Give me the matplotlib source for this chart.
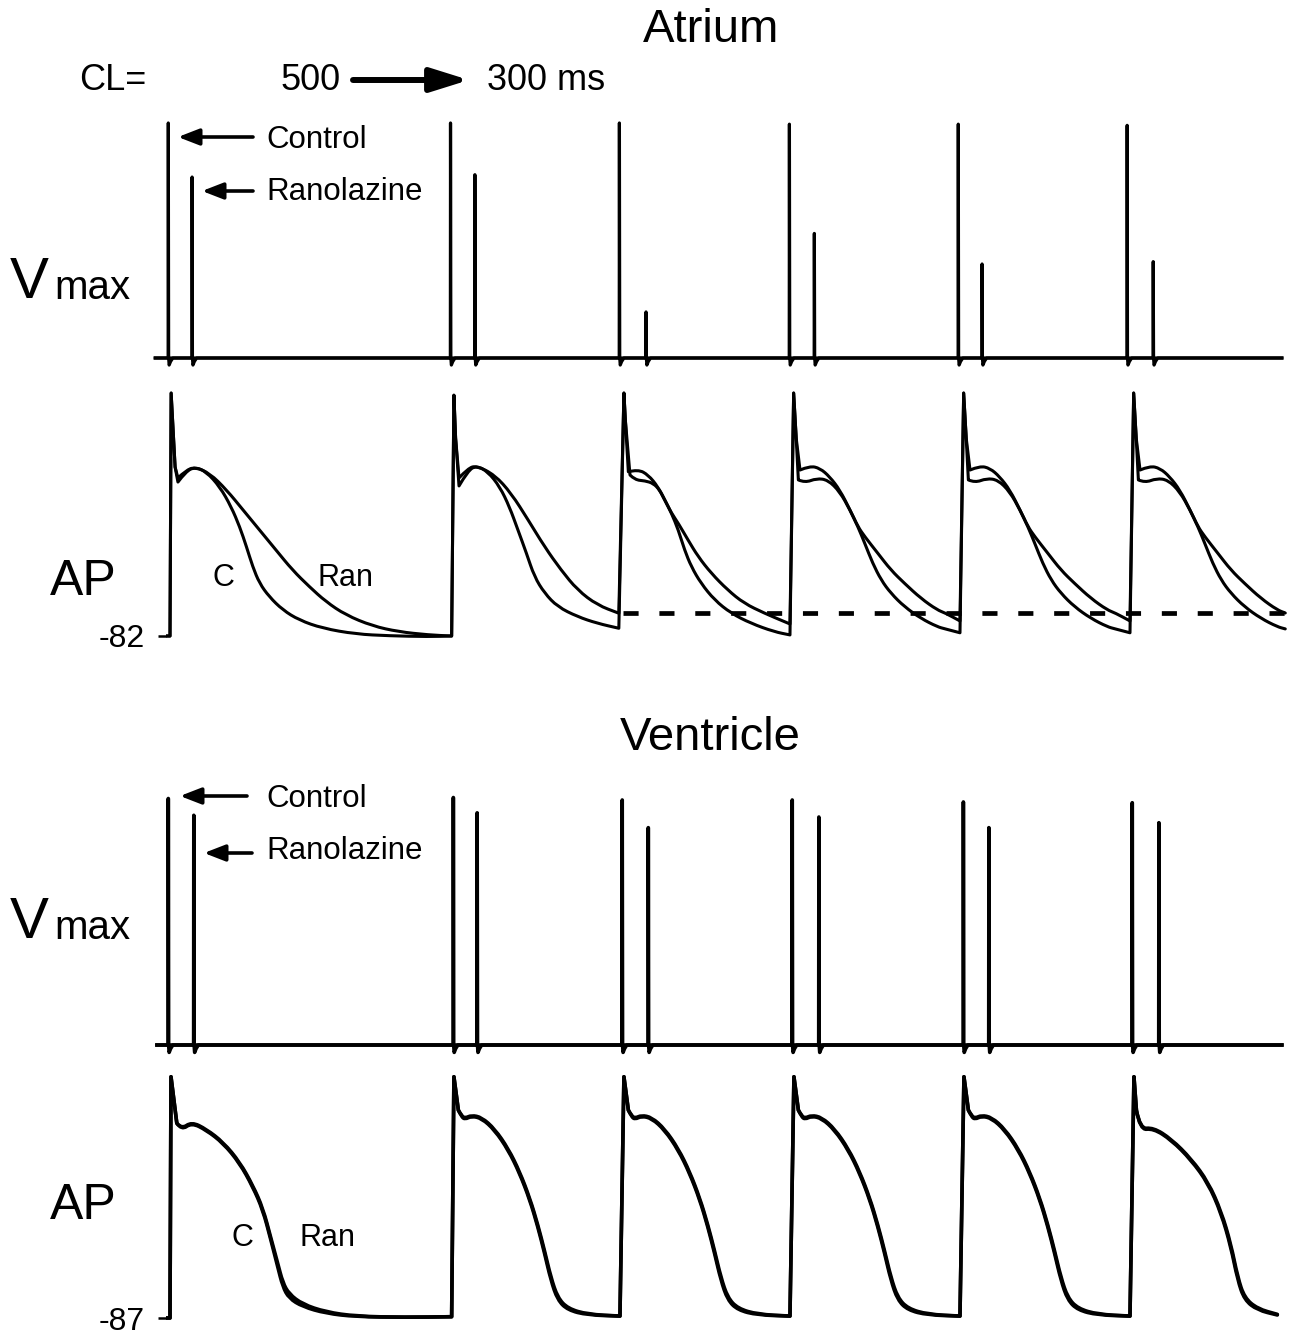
import matplotlib
matplotlib.use("Agg")
import matplotlib.pyplot as plt
from matplotlib.path import Path
from matplotlib.patches import PathPatch, FancyArrowPatch

plt.rcParams['font.family'] = ['Liberation Sans', 'DejaVu Sans']

# ------------------------------------------------------------------ data
BEAT_ONSETS_MS = [0, 500, 800, 1100, 1400, 1700]     # CL 500 -> 300 ms

# Vmax (relative units, control = ~100)
ATR_VMAX_CTRL_T = [-3, 495, 793, 1093, 1391, 1689]
ATR_VMAX_CTRL = [100, 100, 100, 99.5, 99.5, 99]
ATR_VMAX_RAN_T = [39, 538, 840, 1137, 1433, 1735]
ATR_VMAX_RAN = [77, 78, 19.6, 53, 40, 41]
VEN_VMAX_CTRL_T = [-3, 500, 798, 1098, 1400, 1698]
VEN_VMAX_CTRL = [99.8, 100.2, 99.2, 99.2, 98.4, 98.1]
VEN_VMAX_RAN_T = [42, 542, 844, 1145, 1445, 1745]
VEN_VMAX_RAN = [93, 94, 88, 92.3, 88, 90]
VMAX_DIP = [-3.0, -1.5]

# Atrial action potentials (ms after onset, mV)
ATR_REST = -82
ATR_B1_C_T = [2, 9, 14, 28, 44, 64, 88, 108, 123, 135, 146, 158, 175, 199, 228, 269, 328, 386, 456, 497]
ATR_B1_C_V = [31, -3.4, -10.4, -5.5, -3.4, -5.6, -12.6, -21.9, -31.2, -40.5, -49.8, -57.5, -63.7, -69.9,
              -74.6, -78.4, -81.1, -81.9, -82.3, -82]
ATR_B1_R_T = [2, 9, 14, 28, 44, 70, 100, 129, 158, 187, 216, 246, 275, 310, 357, 403, 456, 497]
ATR_B1_R_V = [31, -3.4, -8.5, -5.0, -3.4, -6.3, -14.1, -23.4, -32.7, -42, -51.3, -59.1, -66, -72.2,
              -77.3, -80, -81.5, -82]
ATR_B2_C_T = [1, 4, 10, 26, 41, 61, 82, 99, 114, 129, 143, 161, 184, 219, 254, 292]
ATR_B2_C_V = [30, 10, -12.2, -5, -2.8, -5.6, -12.6, -21.9, -32.7, -43.5, -54.4, -62.1, -68.4, -73, -76.1, -78.4]
ATR_B2_R_T = [1, 4, 10, 26, 41, 73, 102, 132, 161, 190, 219, 254, 292]
ATR_B2_R_V = [30, 10, -8.5, -4, -2.8, -7.1, -15.6, -28, -40.5, -51.3, -60.6, -67.6, -71.4]
ATR_B3_C_T = [1, 3.5, 8.8, 26, 44, 61, 73, 85, 97, 108, 120, 137, 161, 190, 225, 266, 294]
ATR_B3_C_V = [31, 18.5, -5.6, -4.5, -7.1, -12.6, -18.7, -24.9, -32.7, -42, -49.8, -57.5, -65.3, -71.4,
              -76.1, -80, -81.5]
ATR_B3_R_T = [1, 3.5, 11.7, 20.5, 38, 53, 64, 73, 85, 97, 114, 132, 155, 184, 213, 249, 284, 294]
ATR_B3_R_V = [31, 18.5, -7.1, -9.4, -9.8, -11, -14.1, -18.7, -24.9, -29.6, -37.3, -45.1, -52.8, -60.6,
              -66.8, -71.4, -75.3, -76.4]
ATR_B4_C_T = [0.5, 5, 11.7, 29, 47, 64, 82, 100, 114, 126, 140, 155, 172, 196, 225, 254, 268, 294]
ATR_B4_C_V = [31, 10, -4.8, -2.9, -4, -7.9, -14.1, -23.4, -31.2, -38.9, -48.2, -56, -62.1, -68.4,
              -73.8, -77.7, -78.7, -80.5]
ATR_B4_R_T = [0.5, 5, 8.8, 20.5, 41, 61, 82, 100, 114, 126, 149, 172, 196, 225, 254, 268, 294]
ATR_B4_R_V = [31, 10, -9.4, -10.7, -8.7, -9.4, -14.9, -23.4, -31.2, -35.8, -43.5, -51.3, -57.5,
              -64.5, -69.9, -71.3, -75]
ATR_DASH_MV = -71.4
ATR_REC_END = 1970

# Ventricular action potentials (ms after onset, mV)
VEN_REST = -87
VEN_B1_C_T = [1.75, 12, 20.5, 38, 64, 94, 123, 146, 164, 178, 190, 199, 210, 234, 275, 328, 415, 497]
VEN_B1_C_V = [25.2, 3.6, 0.4, 3.8, 0.4, -5.7, -15, -25.9, -36.8, -50.7, -63.1, -72.4, -77.8, -81.7,
              -84.8, -86.4, -86.7, -86.4]
VEN_B1_R_T = [1.75, 12, 20.5, 38, 64, 94, 123, 146, 164, 178, 190, 199, 210, 234, 275, 328, 415, 497]
VEN_B1_R_V = [25.2, 3.6, 0.9, 4.2, 0.8, -5.3, -14.5, -25.3, -36.0, -49.8, -61.5, -70.5, -75.8, -80.6,
              -84.2, -86.2, -86.7, -86.4]
VEN_B2_C_T = [1, 8.8, 14.6, 20.5, 32, 50, 73, 97, 117, 135, 149, 161, 172, 184, 202, 237, 294]
VEN_B2_C_V = [25.2, 9.7, 6.6, 5.4, 6.9, 5.9, 0.4, -8.9, -19.7, -32.1, -44.5, -56.9, -69.3, -78.6,
              -83.3, -85.6, -86.1]
VEN_B2_R_T = [1, 8.8, 14.6, 20.5, 32, 50, 73, 97, 117, 135, 149, 161, 172, 184, 202, 237, 294]
VEN_B2_R_V = [25.2, 9.7, 7.0, 5.9, 7.3, 6.3, 0.9, -8.3, -19.0, -31.4, -43.6, -55.8, -68.0, -77.5,
              -82.6, -85.3, -86.1]
VEN_B6_C_T = [1, 5.3, 11.7, 35, 67, 102, 132, 155, 172, 184, 196, 219, 254, 268]
VEN_B6_C_V = [25.2, 9.7, 0.4, 1.2, -4.2, -13.5, -24.4, -38.3, -53.8, -69.3, -78.6, -83.3, -85.6, -86]
VEN_B6_R_T = [1, 5.3, 11.7, 35, 67, 102, 132, 155, 172, 184, 196, 219, 254, 268]
VEN_B6_R_V = [25.2, 9.7, 0.9, 1.6, -3.8, -13.0, -23.8, -37.5, -52.6, -68.0, -77.6, -82.7, -85.3, -86]
VEN_REC_END = 1965

# ------------------------------------------------------------------ layout helpers
W, H = 1295, 1336
X0_PX = 170.0          # pixel column of t = 0
PX_PER_MS = 0.5667

fig = plt.figure(figsize=(W / 100, H / 100), dpi=100)
fig.patch.set_facecolor('white')


def add_ax(left, top, right, bottom):
    ax = fig.add_axes([left / W, 1 - bottom / H, (right - left) / W, (bottom - top) / H])
    ax.set_xlim((left - X0_PX) / PX_PER_MS, (right - X0_PX) / PX_PER_MS)
    for s in ax.spines.values():
        s.set_visible(False)
    ax.set_xticks([])
    ax.set_yticks([])
    ax.patch.set_alpha(0)
    return ax


def set_ylim_px(ax, top, bottom, base_px, base_val, px_per_unit):
    ax.set_ylim(base_val - (bottom - base_px) / px_per_unit, base_val + (base_px - top) / px_per_unit)


def vmax_trace(times, amps, t0, t1):
    t, v = [t0], [0.0]
    for ts, a in zip(times, amps):
        t += [ts - 0.3, ts, ts + 0.6, ts + 1.5, ts + 4, ts + 8]
        v += [0, a, 0, VMAX_DIP[0], VMAX_DIP[1], 0]
    t.append(t1)
    v.append(0.0)
    return t, v


def ap_trace(onsets, templates, t_start, rest, t_end, n_sharp):
    """Concatenate beats; also flag the sharp corners (upstroke, spike, notch, end of beat)."""
    t, v, sharp = [t_start, onsets[0]], [rest, rest], [True, True]
    for on, (tt, vv) in zip(onsets, templates):
        n = len(tt)
        for k, (a, b) in enumerate(zip(tt, vv)):
            if on + a <= t_end:
                t.append(on + a)
                v.append(b)
                sharp.append(k < n_sharp or k == n - 1)
    sharp[-1] = True
    return t, v, sharp


def draw_smooth(ax, t, v, sharp, lw):
    verts, codes = [(t[0], v[0])], [Path.MOVETO]
    n = len(t)
    for i in range(1, n - 1):
        if sharp[i]:
            verts.append((t[i], v[i]))
            codes.append(Path.LINETO)
        else:
            verts += [(t[i], v[i]), ((t[i] + t[i + 1]) / 2, (v[i] + v[i + 1]) / 2)]
            codes += [Path.CURVE3, Path.CURVE3]
    verts.append((t[-1], v[-1]))
    codes.append(Path.LINETO)
    ax.add_patch(PathPatch(Path(verts, codes), fill=False, edgecolor='black', lw=lw,
                           joinstyle='round', capstyle='round'))


def ftext(x, y, s, **kw):
    fig.text(x / W, 1 - y / H, s, **kw)


def farrow(x1, y1, x2, y2, lw, ms, hl, hw):
    fig.add_artist(FancyArrowPatch(
        (x1 / W, 1 - y1 / H), (x2 / W, 1 - y2 / H), transform=fig.transFigure,
        arrowstyle=f'-|>,head_length={hl},head_width={hw}', mutation_scale=ms,
        lw=lw, color='black', shrinkA=0, shrinkB=0))


# ------------------------------------------------------------------ atrium Vmax
ax = add_ax(150, 110, 1295, 372)
set_ylim_px(ax, 110, 372, 358, 0, 2.35)
t, v = vmax_trace(ATR_VMAX_CTRL_T, ATR_VMAX_CTRL, -26, 1962)
ax.plot(t, v, color='black', lw=2.3)
t, v = vmax_trace(ATR_VMAX_RAN_T, ATR_VMAX_RAN, -26, 1962)
ax.plot(t, v, color='black', lw=2.3)

# ------------------------------------------------------------------ atrium AP
ax = add_ax(166, 380, 1295, 650)
set_ylim_px(ax, 380, 650, 636, ATR_REST, 2.15)
tmpl_c = [(ATR_B1_C_T, ATR_B1_C_V), (ATR_B2_C_T, ATR_B2_C_V), (ATR_B3_C_T, ATR_B3_C_V),
          (ATR_B4_C_T, ATR_B4_C_V), (ATR_B4_C_T, ATR_B4_C_V), (ATR_B4_C_T, ATR_B4_C_V)]
tmpl_r = [(ATR_B1_R_T, ATR_B1_R_V), (ATR_B2_R_T, ATR_B2_R_V), (ATR_B3_R_T, ATR_B3_R_V),
          (ATR_B4_R_T, ATR_B4_R_V), (ATR_B4_R_T, ATR_B4_R_V), (ATR_B4_R_T, ATR_B4_R_V)]
xl = ax.get_xlim()[0]
draw_smooth(ax, *ap_trace(BEAT_ONSETS_MS, tmpl_c, xl, ATR_REST, ATR_REC_END, 3), lw=2.2)
draw_smooth(ax, *ap_trace(BEAT_ONSETS_MS, tmpl_r, xl, ATR_REST, ATR_REC_END, 3), lw=2.2)
ax.hlines(ATR_DASH_MV, BEAT_ONSETS_MS[2], 1980, colors='black', lw=3.4,
          linestyles=(0, (3.2, 4.4)))
ax.set_yticks([ATR_REST])
ax.set_yticklabels(['-82'])
ax.tick_params(axis='y', length=6, width=1.8, pad=9, labelsize=23)

# ------------------------------------------------------------------ ventricle Vmax
ax = add_ax(150, 780, 1295, 1060)
set_ylim_px(ax, 780, 1060, 1045, 0, 2.47)
t, v = vmax_trace(VEN_VMAX_CTRL_T, VEN_VMAX_CTRL, -23, 1962)
ax.plot(t, v, color='black', lw=2.6)
t, v = vmax_trace(VEN_VMAX_RAN_T, VEN_VMAX_RAN, -23, 1962)
ax.plot(t, v, color='black', lw=2.6)

# ------------------------------------------------------------------ ventricle AP
ax = add_ax(166, 1060, 1295, 1336)
set_ylim_px(ax, 1060, 1336, 1318, VEN_REST, 2.15)
tmpl_c = [(VEN_B1_C_T, VEN_B1_C_V)] + [(VEN_B2_C_T, VEN_B2_C_V)] * 4 + [(VEN_B6_C_T, VEN_B6_C_V)]
tmpl_r = [(VEN_B1_R_T, VEN_B1_R_V)] + [(VEN_B2_R_T, VEN_B2_R_V)] * 4 + [(VEN_B6_R_T, VEN_B6_R_V)]
xl = ax.get_xlim()[0]
draw_smooth(ax, *ap_trace(BEAT_ONSETS_MS, tmpl_c, xl, VEN_REST, VEN_REC_END, 2), lw=2.6)
draw_smooth(ax, *ap_trace(BEAT_ONSETS_MS, tmpl_r, xl, VEN_REST, VEN_REC_END, 2), lw=2.6)
ax.set_yticks([VEN_REST])
ax.set_yticklabels(['-87'])
ax.tick_params(axis='y', length=6, width=1.8, pad=9, labelsize=23)

# ------------------------------------------------------------------ text
ftext(711, 30, 'Atrium', ha='center', va='center', fontsize=34)
ftext(710, 738, 'Ventricle', ha='center', va='center', fontsize=34)
ftext(113, 80, 'CL=', ha='center', va='center', fontsize=26)
ftext(311, 80, '500', ha='center', va='center', fontsize=26)
ftext(546, 80, '300 ms', ha='center', va='center', fontsize=26)
farrow(353, 80, 469, 80, 4.3, 20, 1.15, 0.36)

for yb in (298, 938):
    ftext(10, yb, 'V', ha='left', va='baseline', fontsize=42)
    ftext(54, yb + 1, 'max', ha='left', va='baseline', fontsize=29)
ftext(50, 595, 'AP', ha='left', va='baseline', fontsize=36)
ftext(50, 1219, 'AP', ha='left', va='baseline', fontsize=36)

ftext(223, 578, 'C', ha='center', va='center', fontsize=22)
ftext(346, 578, 'Ran', ha='center', va='center', fontsize=22)
ftext(242, 1238, 'C', ha='center', va='center', fontsize=22)
ftext(327, 1238, 'Ran', ha='center', va='center', fontsize=22)

ftext(266, 140, 'Control', ha='left', va='center', fontsize=22.5)
ftext(266, 192, 'Ranolazine', ha='left', va='center', fontsize=22.5)
ftext(266, 799, 'Control', ha='left', va='center', fontsize=22.5)
ftext(266, 851, 'Ranolazine', ha='left', va='center', fontsize=22.5)
farrow(253, 137, 178, 137, 2.6, 15, 0.85, 0.33)
farrow(253, 191, 202, 191, 2.6, 15, 0.85, 0.33)
farrow(247, 796, 180, 796, 2.6, 15, 0.85, 0.33)
farrow(252, 853, 204, 853, 2.6, 15, 0.85, 0.33)

fig.savefig('out.png', dpi=100, facecolor='white')
